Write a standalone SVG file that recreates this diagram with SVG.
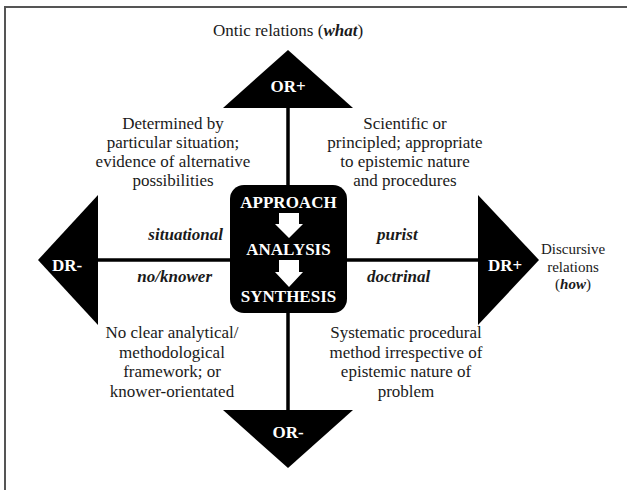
<svg xmlns="http://www.w3.org/2000/svg" width="627" height="490" viewBox="0 0 627 490" font-family="'Liberation Serif', 'Times New Roman', serif">
<style>
text{font-family:"Liberation Serif","Times New Roman",serif;font-size:17px;fill:#1a1a1a;text-anchor:middle}
.w{fill:#fff;font-weight:bold}
.bi{font-weight:bold;font-style:italic}
.sm{font-size:15px}
.tri{fill:#000}
.axis{stroke:#000;stroke-width:3.5;fill:none}
.frame{stroke:#555;stroke-width:2;fill:none}
</style>
<rect width="627" height="490" fill="#fff"/>
<path class="frame" d="M5,490 V7 H627"/>
<g id="connectors">
<line class="axis" x1="288" y1="105" x2="288" y2="413"/>
<line class="axis" x1="95" y1="260" x2="481" y2="260"/>
</g>
<g id="ontic-title"><text x="288" y="36">Ontic relations (<tspan class="bi">what</tspan>)</text></g>
<g id="or-plus"><polygon class="tri" points="288,50 353,108 223,108"/><text class="w" x="288" y="92">OR+</text></g>
<g id="or-minus"><polygon class="tri" points="223,410 353,410 288,468"/><text class="w" x="288" y="438">OR-</text></g>
<g id="dr-minus"><polygon class="tri" points="38,260 98,195 98,325"/><text class="w" x="67" y="271">DR-</text></g>
<g id="dr-plus"><polygon class="tri" points="478,195 539,260 478,325"/><text class="w" x="505" y="271">DR+</text></g>
<g id="discursive-title"><text class="sm" x="573" y="254">Discursive</text><text class="sm" x="573" y="272">relations</text><text class="sm" x="573" y="289">(<tspan class="bi">how</tspan>)</text></g>
<g id="center">
<rect x="230" y="185" width="117" height="128" rx="14" fill="#000"/>
<text class="w" x="288.5" y="208">APPROACH</text>
<polygon fill="#fff" points="279,213 299,213 299,224 303,224 289,238 275,224 279,224"/>
<text class="w" x="288.5" y="255">ANALYSIS</text>
<polygon fill="#fff" points="279,260 299,260 299,272 303,272 289,287 275,272 279,272"/>
<text class="w" x="288.5" y="302">SYNTHESIS</text>
</g>
<g id="label-situational"><text class="bi" x="223" y="240" style="text-anchor:end">situational</text></g>
<g id="label-purist"><text class="bi" x="377" y="240" style="text-anchor:start">purist</text></g>
<g id="label-noknower"><text class="bi" x="212" y="282" style="text-anchor:end">no/knower</text></g>
<g id="label-doctrinal"><text class="bi" x="367" y="282" style="text-anchor:start">doctrinal</text></g>
<g id="desc-tl"><text x="173" y="129">Determined by</text><text x="173" y="148">particular situation;</text><text x="173" y="167">evidence of alternative</text><text x="173" y="186">possibilities</text></g>
<g id="desc-tr"><text x="405" y="129">Scientific or</text><text x="405" y="148">principled; appropriate</text><text x="405" y="167">to epistemic nature</text><text x="405" y="186">and procedures</text></g>
<g id="desc-bl"><text x="172" y="338">No clear analytical/</text><text x="172" y="358">methodological</text><text x="172" y="377">framework; or</text><text x="172" y="397">knower-orientated</text></g>
<g id="desc-br"><text x="406" y="338">Systematic procedural</text><text x="406" y="358">method irrespective of</text><text x="406" y="377">epistemic nature of</text><text x="406" y="397">problem</text></g>
</svg>
